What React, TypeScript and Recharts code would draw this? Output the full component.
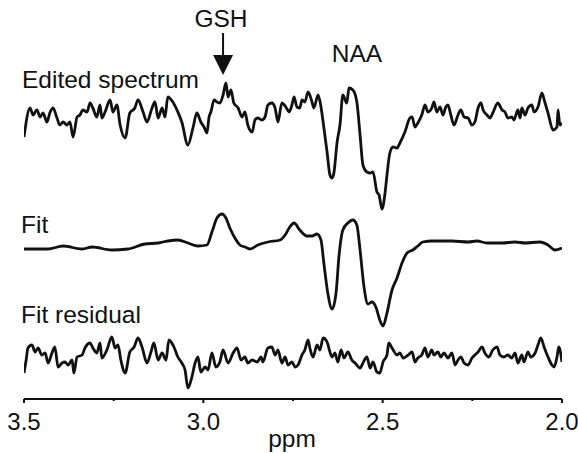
import { LineChart, Line, XAxis, YAxis, ReferenceLine } from 'recharts'

// chemical shift positions (ppm) and signal amplitudes
const editedPpm = [
  3.5, 3.483, 3.475, 3.464, 3.455, 3.447, 3.436, 3.428, 3.419, 3.408, 3.4, 3.391, 3.38, 3.372, 3.363,
  3.352, 3.344, 3.336, 3.324, 3.316, 3.308, 3.297, 3.288, 3.283, 3.274, 3.26, 3.252, 3.241, 3.232, 3.218,
  3.205, 3.191, 3.182, 3.168, 3.157, 3.143, 3.135, 3.126, 3.115, 3.107, 3.099, 3.085, 3.071, 3.06, 3.043,
  3.029, 3.018, 3.007, 2.998, 2.99, 2.984, 2.979, 2.97, 2.962, 2.954, 2.945, 2.937, 2.931, 2.923, 2.915,
  2.903, 2.892, 2.884, 2.876, 2.864, 2.856, 2.848, 2.837, 2.828, 2.82, 2.809, 2.8, 2.792, 2.781, 2.77,
  2.761, 2.753, 2.747, 2.739, 2.731, 2.725, 2.717, 2.708, 2.697, 2.692, 2.68, 2.672, 2.666, 2.655, 2.647,
  2.641, 2.636, 2.627, 2.619, 2.611, 2.6, 2.594, 2.583, 2.572, 2.563, 2.555, 2.544, 2.535, 2.527, 2.516,
  2.51, 2.502, 2.494, 2.488, 2.48, 2.471, 2.46, 2.452, 2.438, 2.424, 2.418, 2.41, 2.402, 2.391, 2.382,
  2.374, 2.363, 2.357, 2.349, 2.34, 2.332, 2.324, 2.318, 2.31, 2.301, 2.29, 2.282, 2.273, 2.262, 2.251,
  2.243, 2.234, 2.226, 2.22, 2.209, 2.201, 2.193, 2.179, 2.167, 2.159, 2.151, 2.14, 2.134, 2.123, 2.117,
  2.112, 2.103, 2.095, 2.084, 2.078, 2.067, 2.056, 2.048, 2.039, 2.025, 2.014, 2.011, 2.006, 2.0,
]
const editedVal = [
  -19, 10, 3, 8, 1, 5, -4, 5, 10, 0, -7, -4, -7, -4, -19,
  1, 3, 8, 6, 15, 10, 1, 13, 0, 6, 18, 6, 13, -7, -20,
  5, 10, 18, 6, -4, 10, 16, 0, 10, 1, 21, 16, 6, -4, -27,
  -10, 5, -4, -9, -15, 1, 6, 18, 16, 15, 23, 35, 21, 28, 15,
  10, 1, 6, -7, -14, -2, 0, -2, 1, 13, 15, 10, -4, 15, 11,
  6, 13, 21, 11, 10, 18, 16, 26, 16, 10, 23, 11, -4, -34, -57,
  -60, -55, -24, -7, 23, 15, 30, 28, 16, -17, -47, -54, -55, -54, -74,
  -77, -91, -77, -57, -35, -29, -30, -25, -14, 0, 1, -9, -5, 3, 13,
  6, 10, 16, 6, 11, 3, 11, 13, 3, -7, 3, 8, 1, 0, -7,
  -4, 10, 15, 8, 3, 0, 5, 15, 8, 6, 0, 1, -2, 8, 0,
  10, 3, 10, 13, 6, 11, 25, 16, 5, -12, -9, 8, -7, -5,
]

const fitPpm = [
  3.5, 3.469, 3.433, 3.391, 3.338, 3.31, 3.255, 3.21, 3.163, 3.126, 3.099, 3.071, 3.043, 3.015, 2.99,
  2.976, 2.962, 2.948, 2.937, 2.926, 2.912, 2.898, 2.884, 2.87, 2.848, 2.82, 2.786, 2.772, 2.759, 2.747,
  2.731, 2.711, 2.697, 2.683, 2.672, 2.664, 2.653, 2.641, 2.63, 2.622, 2.611, 2.597, 2.583, 2.572, 2.563,
  2.552, 2.541, 2.53, 2.519, 2.508, 2.499, 2.488, 2.474, 2.46, 2.446, 2.432, 2.416, 2.402, 2.388, 2.363,
  2.307, 2.262, 2.237, 2.209, 2.167, 2.131, 2.103, 2.062, 2.039, 2.02, 2.0,
]
const fitVal = [
  -1, -1, -1, 2, -1, 1, -2, -1, 4, 5, 7, 8, 5, 2, 3,
  16, 30, 34, 30, 20, 10, 3, 1, -1, 3, 6, 8, 13, 21, 25,
  18, 12, 12, 14, 8, -15, -45, -61, -45, -9, 18, 25, 28, 23, -2,
  -39, -56, -54, -59, -72, -78, -65, -42, -30, -15, -5, -2, 2, 6, 7,
  7, 6, 7, 5, 5, 6, 5, 6, 3, -2, 0,
]

const residualPpm = [
  3.5, 3.494, 3.489, 3.478, 3.469, 3.461, 3.45, 3.441, 3.433, 3.422, 3.414, 3.405, 3.394, 3.386, 3.377,
  3.366, 3.361, 3.352, 3.338, 3.33, 3.316, 3.308, 3.297, 3.288, 3.283, 3.269, 3.255, 3.246, 3.238, 3.23,
  3.218, 3.205, 3.193, 3.182, 3.171, 3.157, 3.146, 3.138, 3.126, 3.115, 3.104, 3.096, 3.082, 3.071, 3.06,
  3.051, 3.043, 3.032, 3.023, 3.015, 3.007, 2.995, 2.987, 2.976, 2.965, 2.954, 2.945, 2.931, 2.917, 2.906,
  2.895, 2.884, 2.876, 2.864, 2.85, 2.839, 2.834, 2.82, 2.809, 2.8, 2.792, 2.781, 2.772, 2.764, 2.753,
  2.744, 2.736, 2.725, 2.717, 2.708, 2.703, 2.694, 2.683, 2.675, 2.666, 2.655, 2.647, 2.641, 2.633, 2.625,
  2.616, 2.608, 2.597, 2.586, 2.577, 2.563, 2.555, 2.544, 2.535, 2.527, 2.516, 2.508, 2.499, 2.488, 2.483,
  2.474, 2.46, 2.452, 2.443, 2.429, 2.418, 2.41, 2.402, 2.391, 2.382, 2.374, 2.363, 2.357, 2.346, 2.338,
  2.329, 2.318, 2.307, 2.298, 2.29, 2.282, 2.273, 2.262, 2.251, 2.243, 2.234, 2.223, 2.215, 2.204, 2.193,
  2.181, 2.173, 2.162, 2.151, 2.14, 2.131, 2.123, 2.112, 2.106, 2.095, 2.087, 2.075, 2.067, 2.059, 2.05,
  2.039, 2.028, 2.022, 2.014, 2.009, 2.0,
]
const residualVal = [
  -15, -2, 10, 13, 6, 10, 3, 5, -5, 5, 11, -9, -5, -4, -7,
  -2, -15, 1, 3, 10, 15, 10, 5, 15, 0, 8, 21, 10, 13, -2,
  -15, 6, 11, 20, 11, -5, 6, 15, -2, 5, -2, 18, 11, 1, -5,
  -12, -30, -19, -5, 1, -14, -9, -12, 5, -9, -4, 8, -5, 5, 10,
  -2, 1, -5, -2, -4, 1, -4, 10, 11, 3, 8, -5, 1, -7, -4,
  -9, -7, 3, 8, 18, 10, 1, 13, 8, 20, 16, 6, 1, 5, -4,
  8, 0, 6, -2, -5, -10, -5, 1, -10, -4, -14, -15, -4, 3, 15,
  10, 3, 5, 0, 3, 6, -4, 0, 3, 10, 1, 8, 3, 6, 1,
  5, 0, 5, -7, -2, 1, -5, -7, 0, 3, 6, 11, 5, 1, 8,
  11, 3, 1, 3, 0, 5, -5, 3, -4, 6, 1, 5, 13, 20, 11,
  1, -7, -9, 1, 11, -4,
]

const ppmTicks = [3.5, 3.25, 3.0, 2.75, 2.5, 2.25, 2.0]
const majorTicks = [3.5, 3.0, 2.5, 2.0]

// GSH arrow, in edited-spectrum units
const gshPpm = 2.945
const gshArrowTop = 85
const gshArrowTip = 43

const toPoints = (ppm: number[], vals: number[]) => ppm.map((p, i) => ({ ppm: p, v: vals[i] }))

const edited = toPoints(editedPpm, editedVal)
const fit = toPoints(fitPpm, fitVal)
const residual = toPoints(residualPpm, residualVal)

const FONT = '"Liberation Sans", Arial, sans-serif'
const INK = '#111'
const TRACE_WIDTH = 2.8

function PpmTick(props: any) {
  const { x, y, payload } = props
  const major = majorTicks.includes(payload.value)
  return (
    <g>
      <line x1={x} x2={x} y1={y} y2={y + (major ? 4 : 2)} stroke={INK} strokeWidth={2} />
      {major && (
        <text x={x} y={y + 31} textAnchor="middle" fontFamily={FONT} fontSize={24} fill={INK}>
          {payload.value.toFixed(1)}
        </text>
      )}
    </g>
  )
}

function Arrow(props: any) {
  const { x1, y1, y2 } = props
  const top = Math.min(y1, y2)
  const tip = Math.max(y1, y2)
  const head = 20
  return (
    <g>
      <line x1={x1} x2={x1} y1={top} y2={tip - head + 2} stroke={INK} strokeWidth={2} />
      <polygon points={`${x1 - 10},${tip - head} ${x1 + 10},${tip - head} ${x1},${tip}`} fill={INK} />
    </g>
  )
}

export default function App() {
  return (
    <div style={{ position: 'absolute', left: 0, top: 0, width: 578, height: 453, background: '#fff' }}>
      <LineChart width={578} height={453} margin={{ top: 0, right: 16, bottom: 0, left: 24 }}>
        <XAxis
          dataKey="ppm"
          type="number"
          domain={[2.0, 3.5]}
          reversed
          allowDataOverflow
          ticks={ppmTicks}
          interval={0}
          height={54}
          tickSize={0}
          tickMargin={0}
          tickLine={false}
          axisLine={{ stroke: INK, strokeWidth: 2 }}
          tick={<PpmTick />}
        />
        <YAxis yAxisId="edited" hide domain={[-281, 118]} allowDataOverflow />
        <YAxis yAxisId="fit" hide domain={[-151, 248]} allowDataOverflow />
        <YAxis yAxisId="residual" hide domain={[-41, 358]} allowDataOverflow />
        <Line
          yAxisId="edited"
          data={edited}
          dataKey="v"
          type="monotone"
          stroke={INK}
          strokeWidth={TRACE_WIDTH}
          strokeLinejoin="round"
          dot={false}
          isAnimationActive={false}
        />
        <Line
          yAxisId="fit"
          data={fit}
          dataKey="v"
          type="monotone"
          stroke={INK}
          strokeWidth={TRACE_WIDTH}
          strokeLinejoin="round"
          dot={false}
          isAnimationActive={false}
        />
        <Line
          yAxisId="residual"
          data={residual}
          dataKey="v"
          type="monotone"
          stroke={INK}
          strokeWidth={TRACE_WIDTH}
          strokeLinejoin="round"
          dot={false}
          isAnimationActive={false}
        />
        <ReferenceLine
          yAxisId="edited"
          segment={[
            { x: gshPpm, y: gshArrowTop },
            { x: gshPpm, y: gshArrowTip },
          ]}
          shape={<Arrow />}
        />
      </LineChart>
      <svg
        width={578}
        height={453}
        style={{ position: 'absolute', left: 0, top: 0, pointerEvents: 'none' }}
        fontFamily={FONT}
        fontSize={24.5}
        fill={INK}
      >
        <text x={22} y={88}>Edited spectrum</text>
        <text x={221} y={27} textAnchor="middle">GSH</text>
        <text x={357} y={62} textAnchor="middle">NAA</text>
        <text x={21} y={233}>Fit</text>
        <text x={21} y={323}>Fit residual</text>
        <text x={292} y={447} textAnchor="middle">ppm</text>
      </svg>
    </div>
  )
}
